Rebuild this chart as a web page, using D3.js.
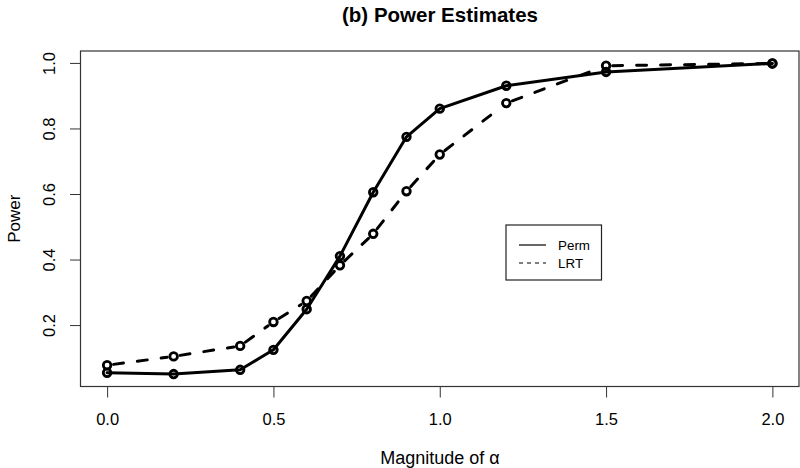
<!DOCTYPE html>
<html>
<head>
<meta charset="utf-8">
<script src="https://cdn.jsdelivr.net/npm/d3@7"></script>
<style>
  html, body { margin: 0; padding: 0; background: #fff; }
  text { font-family: "Liberation Sans", Arial, Helvetica, sans-serif; fill: #000; }
</style>
</head>
<body>
<svg id="chart" width="800" height="468"></svg>
<script>
const magnitudes = [0, 0.2, 0.4, 0.5, 0.6, 0.7, 0.8, 0.9, 1.0, 1.2, 1.5, 2.0];
const permPower = [0.056, 0.052, 0.065, 0.126, 0.25, 0.412, 0.607, 0.776, 0.862, 0.932, 0.974, 1.0];
const lrtPower  = [0.079, 0.106, 0.138, 0.211, 0.275, 0.384, 0.48, 0.61, 0.722, 0.879, 0.993, 1.0];
const xTicks = [0, 0.5, 1.0, 1.5, 2.0];
const yTicks = [0.2, 0.4, 0.6, 0.8, 1.0];
const seriesNames = ["Perm", "LRT"];

const svg = d3.select("#chart");
const box = { left: 80.5, right: 799, top: 51, bottom: 386.5 };

// R-style 4% domain expansion
const xLo = d3.min(magnitudes), xHi = d3.max(magnitudes);
const xPad = 0.04 * (xHi - xLo);
const x = d3.scaleLinear().domain([xLo - xPad, xHi + xPad]).range([box.left, box.right]);
const allY = permPower.concat(lrtPower);
const yLo = d3.min(allY), yHi = d3.max(allY);
const yPad = 0.04 * (yHi - yLo);
const y = d3.scaleLinear().domain([yLo - yPad, yHi + yPad]).range([box.bottom, box.top]);

// Title
svg.append("text").attr("x", 440).attr("y", 22).attr("text-anchor", "middle")
  .style("font-size", "20.5px").style("font-weight", "bold").text("(b) Power Estimates");

// Axes (ticks + labels, R style)
const xAxis = d3.axisBottom(x).tickValues(xTicks).tickFormat(d3.format(".1f")).tickSize(11).tickPadding(16);
const gx = svg.append("g").attr("transform", `translate(0,${box.bottom})`).call(xAxis);
gx.select(".domain").remove();
gx.selectAll("line").attr("stroke", "#333");
gx.selectAll("text").style("font-size", "16.5px").attr("fill", "#000")
  .style("font-family", '"Liberation Sans", Arial, sans-serif');

const yAxis = d3.axisLeft(y).tickValues(yTicks).tickFormat(d3.format(".1f")).tickSize(10.5).tickPadding(0);
const gy = svg.append("g").attr("transform", `translate(${box.left},0)`).call(yAxis);
gy.select(".domain").remove();
gy.selectAll("line").attr("stroke", "#333");
gy.selectAll("text").style("font-size", "16.5px").attr("fill", "#000")
  .style("font-family", '"Liberation Sans", Arial, sans-serif')
  .attr("dy", null).attr("text-anchor", "middle").attr("x", 0).attr("y", 0);
gy.selectAll(".tick").attr("transform", null);
gy.selectAll(".tick line").attr("transform", d => `translate(0,${y(d)})`);
gy.selectAll(".tick text").attr("transform", d => `translate(${-25.5},${y(d)}) rotate(-90)`);

// Axis labels
svg.append("text").attr("x", 440).attr("y", 464).attr("text-anchor", "middle")
  .style("font-size", "18px").text("Magnitude of α");
svg.append("text").attr("transform", `translate(20,${(box.top + box.bottom) / 2}) rotate(-90)`)
  .attr("text-anchor", "middle").style("font-size", "17px").text("Power");

// Plot box
svg.append("rect").attr("x", box.left).attr("y", box.top)
  .attr("width", box.right - box.left).attr("height", box.bottom - box.top)
  .attr("fill", "none").attr("stroke", "#333").attr("stroke-width", 1.2);

const R = 3.8;

// Perm: line through points (type "o")
const line = d3.line().x((d, i) => x(magnitudes[i])).y(d => y(d));
svg.append("path").datum(permPower).attr("d", line)
  .attr("fill", "none").attr("stroke", "#000").attr("stroke-width", 3)
  .attr("stroke-linejoin", "round").attr("stroke-linecap", "round");

// LRT: dashed segments with gaps around points (type "b")
const gap = 6.5;
const segs = d3.pairs(lrtPower.map((v, i) => [x(magnitudes[i]), y(v)]));
svg.append("g").selectAll("line").data(segs).join("line")
  .each(function([a, b]) {
    const dx = b[0] - a[0], dy = b[1] - a[1], L = Math.hypot(dx, dy);
    if (L <= 2 * gap) { d3.select(this).remove(); return; }
    const ux = dx / L, uy = dy / L;
    d3.select(this).attr("x1", a[0] + ux * gap).attr("y1", a[1] + uy * gap)
      .attr("x2", b[0] - ux * gap).attr("y2", b[1] - uy * gap);
  })
  .attr("stroke", "#000").attr("stroke-width", 3)
  .attr("stroke-dasharray", "10,14").attr("stroke-linecap", "round");

// Points
[permPower, lrtPower].forEach(vals => {
  svg.append("g").selectAll("circle").data(vals).join("circle")
    .attr("cx", (d, i) => x(magnitudes[i])).attr("cy", d => y(d)).attr("r", R)
    .attr("fill", "none").attr("stroke", "#000").attr("stroke-width", 2.8);
});

// Legend
const lg = svg.append("g");
lg.append("rect").attr("x", 506).attr("y", 225).attr("width", 95.5).attr("height", 55)
  .attr("fill", "#fff").attr("stroke", "#222").attr("stroke-width", 1.2);
const dashes = [null, "4,4"];
seriesNames.forEach((name, i) => {
  const ly = 245 + i * 18;
  lg.append("line").attr("x1", 519).attr("x2", 546).attr("y1", ly).attr("y2", ly)
    .attr("stroke", "#000").attr("stroke-width", 1.2).attr("stroke-dasharray", dashes[i]);
  lg.append("text").attr("x", 558).attr("y", ly + 4.5).style("font-size", "13.4px").text(name);
});
</script>
</body>
</html>
